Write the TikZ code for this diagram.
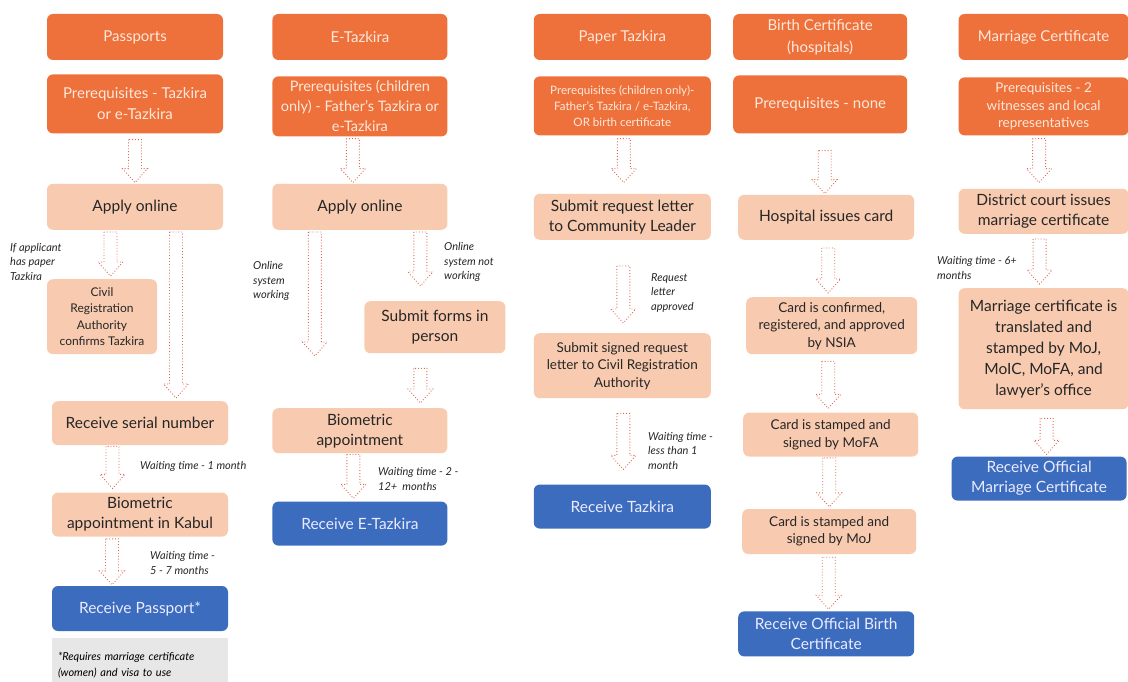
\documentclass[tikz,border=0pt]{standalone}
\usepackage{fontspec}
\setmainfont{Lato}
\usepackage{xcolor}
\usepackage{tikz}
\usetikzlibrary{positioning,calc}

\definecolor{hdorange}{RGB}{238,112,58}
\definecolor{hdtext}{RGB}{253,233,220}
\definecolor{peach}{RGB}{248,203,176}
\definecolor{bluebox}{RGB}{60,108,189}
\definecolor{notegray}{RGB}{231,231,231}
\definecolor{arrowred}{RGB}{222,104,78}

% hollow dotted block arrow: x offset, from, to, top gap, tip gap
\newcommand{\flowarr}[5]{%
  \draw[blockarr] let \p1=(#2.south), \p2=(#3.north) in
    ({\x1+(#1)-6.5pt},{\y1-(#4)}) -- ({\x1+(#1)-6.5pt},{\y2+(#5)+14pt})
    -- ({\x1+(#1)-12.5pt},{\y2+(#5)+14pt}) -- ({\x1+(#1)},{\y2+(#5)})
    -- ({\x1+(#1)+12.5pt},{\y2+(#5)+14pt}) -- ({\x1+(#1)+6.5pt},{\y2+(#5)+14pt})
    -- ({\x1+(#1)+6.5pt},{\y1-(#4)}) -- cycle;}

\begin{document}
\begin{tikzpicture}[
    x=1pt, y=1pt,
    hdr/.style={rectangle, rounded corners=6pt, fill=hdorange, text=hdtext, align=center, minimum width=175pt, minimum height=46pt, inner sep=2pt, font=\fontsize{15}{21}\selectfont},
    prereq/.style={hdr, minimum height=58pt},
    stepbox/.style={rectangle, rounded corners=6pt, fill=peach, text=black!85, align=center, minimum width=175pt, minimum height=45pt, inner sep=2pt, font=\fontsize{15.5}{20}\selectfont},
    result/.style={stepbox, fill=bluebox, text=white!92!blue},
    smalltext/.style={font=\fontsize{11.6}{16}\selectfont},
    midtext/.style={font=\fontsize{13.5}{17.5}\selectfont},
    waitlbl/.style={anchor=west, align=left, inner sep=0pt, text=black!85, font=\itshape\fontsize{11}{14.5}\selectfont},
    blockarr/.style={draw=arrowred, dotted, line width=0.9pt, line join=miter}
]
\useasboundingbox (0,0) rectangle (1128,-682);

% Passports
\node[hdr, minimum width=176pt] (pass) at (135,-37) {Passports};
\node[prereq, minimum width=176pt, minimum height=59pt, below=14pt of pass] (passpre) {Prerequisites - Tazkira\\or e-Tazkira};
\node[stepbox, minimum width=176pt, minimum height=46pt, below=50pt of passpre] (passapply) {Apply online};
\node[stepbox, font=\fontsize{12}{16.5}\selectfont, minimum width=110pt, minimum height=75pt, below=49pt of passapply, xshift=-33pt] (passcra) {Civil\\Registration\\Authority\\confirms Tazkira};
\node[stepbox, minimum width=176pt, minimum height=44pt, below=171pt of passapply, xshift=5pt] (passserial) {Receive serial number};
\node[stepbox, minimum width=176pt, minimum height=44pt, below=47pt of passserial] (passbio) {Biometric\\appointment in Kabul};
\node[result, minimum width=176pt, below=49pt of passbio] (passrecv) {Receive Passport*};
\node[rectangle, fill=notegray, minimum width=176pt, minimum height=54pt, text width=164pt, align=left, inner sep=0pt, font=\itshape\fontsize{11}{16}\selectfont, below=7pt of passrecv] (passnote) {*Requires marriage certificate\\(women) and visa to use};

% E-Tazkira
\node[hdr, right=49pt of pass] (etz) {E-Tazkira};
\node[prereq, minimum height=60pt, below=16pt of etz, font=\fontsize{14.5}{20}\selectfont] (etzpre) {Prerequisites (children\\only) - Father's Tazkira or\\e-Tazkira};
\node[stepbox, minimum height=46pt, below=47pt of etzpre] (etzapply) {Apply online};
\node[stepbox, minimum width=141pt, minimum height=52pt, below=71pt of etzapply, xshift=75pt] (etzforms) {Submit forms in\\person};
\node[stepbox, below=178pt of etzapply] (etzbio) {Biometric\\appointment};
\node[result, minimum height=44pt, below=48pt of etzbio] (etzrecv) {Receive E-Tazkira};

% Paper Tazkira
\node[hdr, minimum width=177pt, right=86pt of etz] (ptz) {Paper Tazkira};
\node[prereq, smalltext, minimum width=177pt, minimum height=59pt, below=16pt of ptz] (ptzpre) {Prerequisites (children only)-\\Father's Tazkira / e-Tazkira,\\OR birth certificate};
\node[stepbox, minimum width=177pt, minimum height=46pt, below=58pt of ptzpre] (ptzletter) {Submit request letter\\to Community Leader};
\node[stepbox, midtext, minimum width=177pt, minimum height=65pt, below=93pt of ptzletter] (ptzsigned) {Submit signed request\\letter to Civil Registration\\Authority};
\node[result, minimum width=177pt, minimum height=44pt, below=86pt of ptzsigned] (ptzrecv) {Receive Tazkira};

% Birth Certificate
\node[hdr, minimum width=174pt, right=22pt of ptz, font=\fontsize{15}{22}\selectfont] (bc) {Birth Certificate\\(hospitals)};
\node[prereq, minimum width=174pt, below=15pt of bc] (bcpre) {Prerequisites - none};
\node[stepbox, minimum width=176pt, below=61pt of bcpre, xshift=6pt] (bchosp) {Hospital issues card};
\node[stepbox, midtext, minimum width=171pt, minimum height=57pt, below=57pt of bchosp, xshift=5.5pt] (bcnsia) {Card is confirmed,\\registered, and approved\\by NSIA};
\node[stepbox, midtext, minimum height=44pt, below=58pt of bcnsia, xshift=-1pt] (bcmofa) {Card is stamped and\\signed by MoFA};
\node[stepbox, midtext, minimum width=174pt, below=52pt of bcmofa, xshift=-1.5pt] (bcmoj) {Card is stamped and\\signed by MoJ};
\node[result, minimum width=176pt, below=57pt of bcmoj, xshift=-3pt] (bcrecv) {Receive Official Birth\\Certificate};

% Marriage Certificate
\node[hdr, minimum width=170pt, right=51pt of bc] (mc) {Marriage Certificate};
\node[prereq, midtext, minimum width=170pt, below=17pt of mc] (mcpre) {Prerequisites - 2\\witnesses and local\\representatives};
\node[stepbox, minimum width=170pt, below=53pt of mcpre] (mccourt) {District court issues\\marriage certificate};
\node[stepbox, minimum width=170pt, minimum height=121pt, below=54pt of mccourt, font=\fontsize{15.5}{21}\selectfont] (mctrans) {Marriage certificate is\\translated and\\stamped by MoJ,\\MoIC, MoFA, and\\lawyer's office};
\node[result, minimum height=44pt, below=47pt of mctrans, xshift=-4.5pt] (mcrecv) {Receive Official\\Marriage Certificate};

% Arrows
\flowarr{0pt}{passpre}{passapply}{6pt}{1pt}
\flowarr{-24.5pt}{passapply}{passcra}{2pt}{3pt}
\flowarr{41pt}{passapply}{passserial}{2pt}{3pt}
\flowarr{-27.5pt}{passserial}{passbio}{1pt}{4pt}
\flowarr{-28pt}{passbio}{passrecv}{2pt}{1pt}

\flowarr{-7pt}{etzpre}{etzapply}{2pt}{1pt}
\flowarr{-45pt}{etzapply}{etzbio}{2pt}{52pt}
\flowarr{60.5pt}{etzapply}{etzforms}{2pt}{15pt}
\flowarr{-14.5pt}{etzforms}{etzbio}{15pt}{5pt}
\flowarr{-6.5pt}{etzbio}{etzrecv}{1pt}{3pt}

\flowarr{1.5pt}{ptzpre}{ptzletter}{3pt}{11pt}
\flowarr{1pt}{ptzletter}{ptzsigned}{26pt}{10pt}
\flowarr{1pt}{ptzsigned}{ptzrecv}{15pt}{15pt}

\flowarr{4.5pt}{bcpre}{bchosp}{17pt}{1pt}
\flowarr{2pt}{bchosp}{bcnsia}{8pt}{4pt}
\flowarr{-3.5pt}{bcnsia}{bcmofa}{7pt}{4pt}
\flowarr{-1.5pt}{bcmofa}{bcmoj}{1pt}{2pt}
\flowarr{-0.5pt}{bcmoj}{bcrecv}{3pt}{2pt}

\flowarr{-4.5pt}{mcpre}{mccourt}{3pt}{6pt}
\flowarr{-4pt}{mccourt}{mctrans}{5pt}{4pt}
\flowarr{3pt}{mctrans}{mcrecv}{9pt}{2pt}

% Waiting times and conditions
\node[waitlbl, anchor=north west] (lblpaper) at (10,-243) {If applicant\\has paper\\Tazkira};
\node[waitlbl] (lblpass1) at (140,-466) {Waiting time - 1 month};
\node[waitlbl] (lblpass2) at (150,-563) {Waiting time -\\5 - 7 months};
\node[waitlbl] (lblonline) at (253,-281) {Online\\system\\working};
\node[waitlbl] (lbloffline) at (444,-262) {Online\\system not\\working};
\node[waitlbl] (lbletz) at (378,-479) {Waiting time - 2 -\\12+\ \ months};
\node[waitlbl] (lblletter) at (651,-293) {Request\\letter\\approved};
\node[waitlbl] (lblptz) at (648,-451) {Waiting time -\\less than 1\\month};
\node[waitlbl] (lblmc) at (937,-268) {Waiting time - 6+\\months};

\end{tikzpicture}
\end{document}
